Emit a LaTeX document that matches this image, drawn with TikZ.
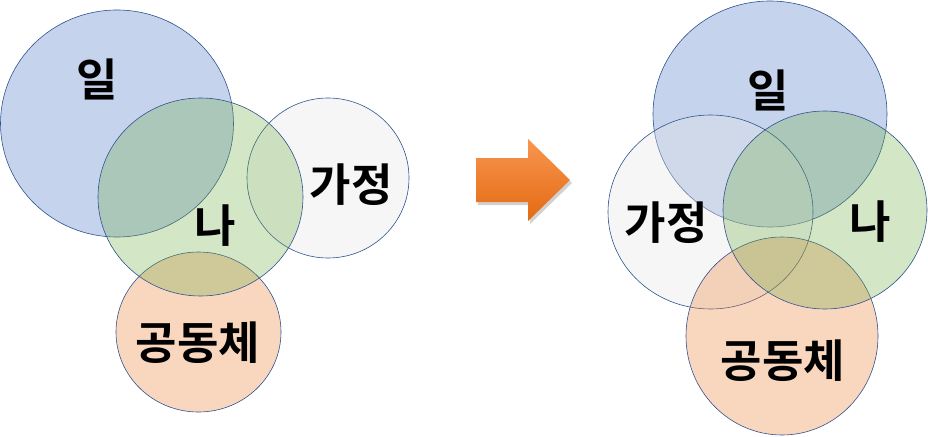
\documentclass[tikz,border=0pt]{standalone}
\usepackage{fontspec}
\newfontfamily\kr{Noto Sans CJK KR}[BoldFont={Noto Sans CJK KR Bold}]
\definecolor{cblue}{RGB}{68,114,196}
\definecolor{cgreen}{RGB}{112,173,71}
\definecolor{corange}{RGB}{237,125,49}
\definecolor{cgray}{RGB}{228,228,228}
\definecolor{edge}{RGB}{47,82,143}
\definecolor{arrtop}{RGB}{247,150,80}
\definecolor{arrbot}{RGB}{228,106,18}
\begin{document}
\begin{tikzpicture}[x=1pt,y=-1pt,
  venn/.style={draw=edge,line width=0.6pt,fill opacity=0.31},
  lbl/.style={font=\kr\bfseries\fontsize{45}{45}\selectfont,inner sep=0pt,text=black}]
\useasboundingbox (0,0) rectangle (928,436);
% ---------- left group ----------
\filldraw[venn,fill=cblue]   (117,123.5) ellipse [x radius=116.5pt, y radius=113.5pt];
\filldraw[venn,fill=cgray,fill opacity=0.35] (328,178) ellipse [x radius=81pt, y radius=80pt];
\filldraw[venn,fill=corange] (198.5,332) ellipse [x radius=82.5pt, y radius=80pt];
\filldraw[venn,fill=cgreen]  (200.5,197) ellipse [x radius=102.5pt, y radius=99pt];
\node[lbl] (w1) at (97,79) {일};
\node[lbl] (m1) at (215,226) {나};
\node[lbl] (f1) at (351,185) {가정};
\node[lbl] (c1) at (198,343) {공동체};
% ---------- arrow ----------
\fill[black,opacity=0.18] (478,161) -- (530,161) -- (530,142) -- (572,183) -- (530,224) -- (530,205) -- (478,205) -- cycle;
\shade[top color=arrtop,bottom color=arrbot] (476,158) -- (528,158) -- (528,139) -- (570,180) -- (528,221) -- (528,202) -- (476,202) -- cycle;
% ---------- right group ----------
\filldraw[venn,fill=cblue]   (770,114) ellipse [x radius=117pt, y radius=113pt];
\filldraw[venn,fill=cgray,fill opacity=0.35] (710.5,212) ellipse [x radius=102.5pt, y radius=97pt];
\filldraw[venn,fill=corange] (782,336) ellipse [x radius=96pt, y radius=99pt];
\filldraw[venn,fill=cgreen]  (825,210) ellipse [x radius=102pt, y radius=99pt];
\node[lbl] (w2) at (768,90) {일};
\node[lbl] (f2) at (666,223) {가정};
\node[lbl] (m2) at (870,222) {나};
\node[lbl] (c2) at (783,361) {공동체};
\end{tikzpicture}
\end{document}
